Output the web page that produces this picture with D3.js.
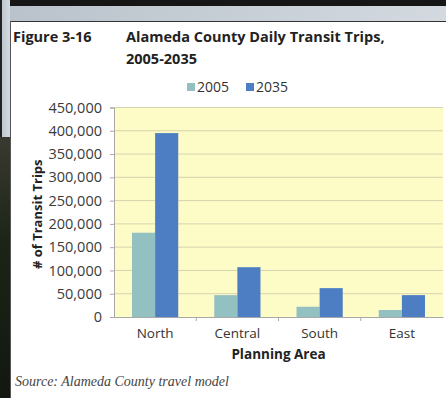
<!DOCTYPE html>
<html>
<head>
<meta charset="utf-8">
<script src="https://cdn.jsdelivr.net/npm/d3@7"></script>
<style>
  html, body { margin: 0; padding: 0; background: #fff; }
  svg { display: block; }
  text { font-family: "Open Sans", sans-serif; }
</style>
</head>
<body>
<div class="holder"></div>
<script>
// data
const areas = ["North", "Central", "South", "East"];
const years = ["2005", "2035"];
const trips2005 = [181000, 47000, 22000, 15000];
const trips2035 = [395000, 107000, 62000, 47000];
const yTicks = [0, 50000, 100000, 150000, 200000, 250000, 300000, 350000, 400000, 450000];

// constants
const W = 446, H = 398;
const plot = { left: 114, right: 443, top: 107.5, bottom: 317 };
const colors = { "2005": "#93c1c1", "2035": "#4d7ec4" };

let svg = d3.select(".holder").append("svg")
    .attr("width", W).attr("height", H);

// frame around the slide
let defs = svg.append("defs");
let grad = defs.append("linearGradient").attr("id", "band").attr("x1", 0).attr("x2", 1);
grad.append("stop").attr("offset", "0%").attr("stop-color", "#b9c2cb");
grad.append("stop").attr("offset", "100%").attr("stop-color", "#d3d9df");
let photo = defs.append("linearGradient").attr("id", "photo").attr("x1", 0).attr("x2", 0).attr("y1", 0).attr("y2", 1);
photo.append("stop").attr("offset", "0%").attr("stop-color", "#3a3a30");
photo.append("stop").attr("offset", "40%").attr("stop-color", "#1c2418");
photo.append("stop").attr("offset", "100%").attr("stop-color", "#121810");

svg.append("rect").attr("x", 0).attr("y", 0).attr("width", W).attr("height", H).attr("fill", "#fff");
svg.append("rect").attr("x", 0).attr("y", 0).attr("width", W).attr("height", 6).attr("fill", "#161616");
svg.append("rect").attr("x", 0).attr("y", 6).attr("width", W).attr("height", 15).attr("fill", "url(#band)");
svg.append("rect").attr("x", 0).attr("y", 0).attr("width", 10).attr("height", H).attr("fill", "url(#band)");
svg.append("rect").attr("x", 0).attr("y", 137).attr("width", 10).attr("height", H - 137).attr("fill", "url(#photo)");
svg.append("rect").attr("x", 0).attr("y", 0).attr("width", 2).attr("height", 137).attr("fill", "#222");
svg.append("line").attr("x1", 10).attr("x2", W).attr("y1", 21.5).attr("y2", 21.5).attr("stroke", "#333");
svg.append("line").attr("x1", 10.5).attr("x2", 10.5).attr("y1", 21).attr("y2", H).attr("stroke", "#555");

// titles
svg.append("text").text("Figure 3-16")
    .attr("x", 13).attr("y", 42)
    .style("font-size", "14.5px").style("font-weight", "bold").attr("fill", "#222");
svg.append("text").text("Alameda County Daily Transit Trips,")
    .attr("x", 126).attr("y", 42)
    .style("font-size", "14.5px").style("font-weight", "bold").attr("fill", "#222");
svg.append("text").text("2005-2035")
    .attr("x", 126).attr("y", 64)
    .style("font-size", "14.5px").style("font-weight", "bold").attr("fill", "#222");

// scales
let xScale = d3.scaleBand().domain(areas).range([plot.left, plot.right]).paddingInner(0).paddingOuter(0);
let xInner = d3.scaleBand().domain(years).range([0, xScale.bandwidth()]).paddingInner(0).paddingOuter(0.78);
let yScale = d3.scaleLinear().domain([0, 450000]).range([plot.bottom, plot.top]);

// plot background + gridlines
svg.append("rect")
    .attr("x", plot.left).attr("y", plot.top)
    .attr("width", plot.right - plot.left).attr("height", plot.bottom - plot.top)
    .attr("fill", "#fdfbc6");
svg.append("g").selectAll("line").data(yTicks.slice(1)).enter().append("line")
    .attr("x1", plot.left).attr("x2", plot.right)
    .attr("y1", d => yScale(d)).attr("y2", d => yScale(d))
    .attr("stroke", "#d6d4b0").attr("stroke-width", 1);

// y axis
let yAxis = d3.axisLeft(yScale).tickValues(yTicks).tickFormat(d3.format(",")).tickSize(4).tickPadding(8);
let gy = svg.append("g").attr("transform", `translate(${plot.left},0)`).call(yAxis);
gy.select(".domain").attr("stroke", "#a8a8a8");
gy.selectAll(".tick line").attr("stroke", "#a8a8a8");
gy.selectAll(".tick text").style("font-size", "14.5px").attr("fill", "#3a3a3a")
    .style("font-family", "'Open Sans', sans-serif");

svg.append("text").text("# of Transit Trips")
    .attr("transform", `translate(42,${(plot.top + plot.bottom) / 2 + 2}) rotate(-90)`)
    .attr("text-anchor", "middle")
    .style("font-size", "13px").style("font-weight", "bold").attr("fill", "#222");

// bars
let series = [trips2005, trips2035];
let groups = svg.append("g").selectAll("g").data(areas).enter().append("g")
    .attr("transform", d => `translate(${xScale(d)},0)`);
groups.selectAll("rect").data((d, i) => years.map((y, k) => ({ year: y, value: series[k][i] })))
    .enter().append("rect")
    .attr("x", d => xInner(d.year))
    .attr("y", d => yScale(d.value))
    .attr("width", xInner.bandwidth())
    .attr("height", d => yScale(0) - yScale(d.value))
    .attr("fill", d => colors[d.year]);

// x axis
let xAxis = d3.axisBottom(xScale).tickSize(0).tickPadding(11);
let gx = svg.append("g").attr("transform", `translate(0,${plot.bottom})`).call(xAxis);
gx.select(".domain").attr("stroke", "#a8a8a8");
gx.selectAll(".tick text").style("font-size", "13.5px").attr("fill", "#333")
    .style("font-family", "'Open Sans', sans-serif");
// category separators
gx.selectAll(".sep").data(areas.slice(1)).enter().append("line")
    .attr("x1", d => xScale(d)).attr("x2", d => xScale(d))
    .attr("y1", 0).attr("y2", 4).attr("stroke", "#a8a8a8");

svg.append("text").text("Planning Area")
    .attr("x", (plot.left + plot.right) / 2).attr("y", 359)
    .attr("text-anchor", "middle")
    .style("font-size", "13.5px").style("font-weight", "bold").attr("fill", "#222");

// legend
let legend = svg.append("g").selectAll("g").data(years).enter().append("g")
    .attr("transform", (d, i) => `translate(${187 + i * 59},0)`);
legend.append("rect").attr("x", 0).attr("y", 83).attr("width", 8).attr("height", 8)
    .attr("fill", d => colors[d]);
legend.append("text").text(d => d).attr("x", 10).attr("y", 92)
    .style("font-size", "14px").attr("fill", "#333");

// source
svg.append("text").text("Source: Alameda County travel model")
    .attr("x", 15).attr("y", 386)
    .style("font-family", "'Liberation Serif', serif").style("font-style", "italic")
    .style("font-size", "14px").attr("fill", "#444");
</script>
</body>
</html>
